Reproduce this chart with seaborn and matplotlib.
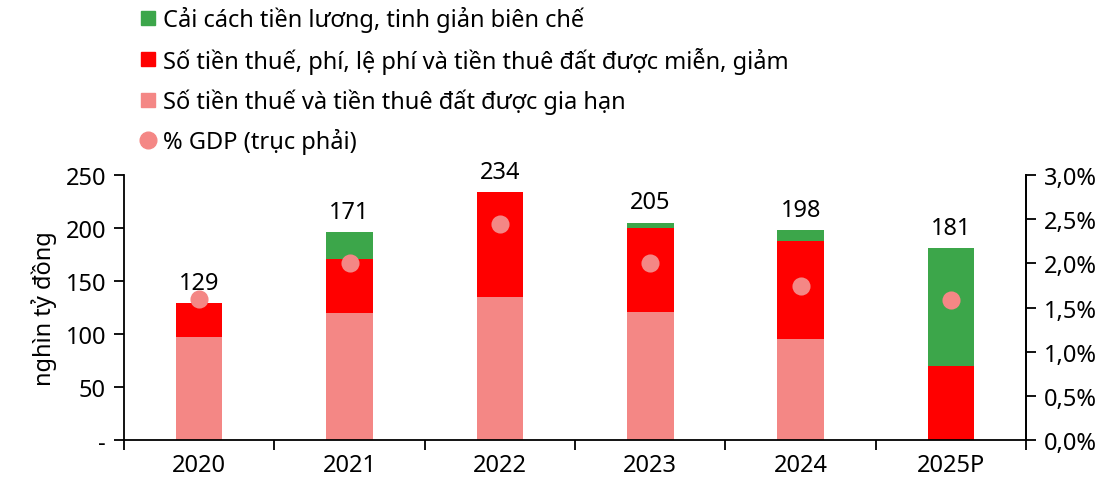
import numpy as np
import pandas as pd
import matplotlib
matplotlib.use("Agg")
import matplotlib.pyplot as plt
import seaborn as sns
from matplotlib.lines import Line2D
from matplotlib.ticker import FixedLocator, FuncFormatter

years = ["2020", "2021", "2022", "2023", "2024", "2025P"]
extended = [97, 120, 135, 121, 95, 0]        # Số tiền thuế và tiền thuê đất được gia hạn
exempted = [32, 51, 99, 79, 93, 70]          # Số tiền thuế, phí, lệ phí ... được miễn, giảm
salary = [0, 25, 0, 5, 10, 111]              # Cải cách tiền lương, tinh giản biên chế
total_labels = ["129", "171", "234", "205", "198", "181"]
gdp_pct = [1.60, 2.01, 2.45, 2.01, 1.74, 1.59]

c_green = "#3CA64A"
c_red = "#FF0000"
c_pink = "#F48785"

sns.set_style("white")
plt.rcParams["font.family"] = ["Noto Sans", "DejaVu Sans"]
plt.rcParams["text.color"] = "black"
plt.rcParams["axes.labelcolor"] = "black"
plt.rcParams["xtick.color"] = "black"
plt.rcParams["ytick.color"] = "black"
FS = 17

df = pd.DataFrame({
    "year": years,
    "pink": extended,
    "red": np.array(extended) + np.array(exempted),
    "green": np.array(extended) + np.array(exempted) + np.array(salary),
})

fig = plt.figure(figsize=(11.07, 4.89), dpi=100)
ax = fig.add_axes([0.112, 0.098, 0.815, 0.542])

bw = 0.31
sns.barplot(data=df, x="year", y="green", color=c_green, width=bw, saturation=1, ax=ax, linewidth=0)
sns.barplot(data=df, x="year", y="red", color=c_red, width=bw, saturation=1, ax=ax, linewidth=0)
sns.barplot(data=df, x="year", y="pink", color=c_pink, width=bw, saturation=1, ax=ax, linewidth=0)

for i, (tot, lab) in enumerate(zip(df["green"], total_labels)):
    ax.annotate(lab, (i, tot), xytext=(0, 6), textcoords="offset points",
                ha="center", va="bottom", fontsize=FS, color="black")

ax.set_xlim(-0.5, 5.5)
ax.set_ylim(0, 250)
ax.set_yticks([0, 50, 100, 150, 200, 250])
ax.set_yticklabels(["-", "50", "100", "150", "200", "250"])
ax.set_xlabel("")
ax.set_ylabel("nghìn tỷ đồng", fontsize=FS, labelpad=6)

ax.xaxis.set_minor_locator(FixedLocator(np.arange(-0.5, 6.0, 1.0)))
ax.tick_params(axis="x", which="major", length=0, labelsize=FS, pad=9)
ax.tick_params(axis="x", which="minor", length=7, width=1.3, direction="out", bottom=True)
ax.tick_params(axis="y", length=7, width=1.3, direction="out", labelsize=FS, left=True, pad=6)

for s in ["left", "bottom", "right"]:
    ax.spines[s].set_visible(True)
    ax.spines[s].set_color("black")
    ax.spines[s].set_linewidth(1.3)
ax.spines["top"].set_visible(False)

ax2 = ax.twinx()
sns.pointplot(x=years, y=gdp_pct, color=c_pink, linestyle="none", markers="o",
              markersize=11, ax=ax2, errorbar=None)
ax2.set_xlim(-0.5, 5.5)
ax2.set_ylim(0, 3.0)
ax2.set_yticks(np.arange(0, 3.01, 0.5))
ax2.yaxis.set_major_formatter(FuncFormatter(lambda v, p: f"{v:.1f}%".replace(".", ",")))
ax2.tick_params(axis="y", length=7, width=1.3, direction="out", labelsize=FS, right=True, pad=6)
ax2.set_ylabel("")
for s in ["top", "left", "bottom"]:
    ax2.spines[s].set_visible(False)
ax2.spines["right"].set_color("black")
ax2.spines["right"].set_linewidth(1.3)

handles = [
    Line2D([], [], marker="s", linestyle="none", color=c_green, markersize=10),
    Line2D([], [], marker="s", linestyle="none", color=c_red, markersize=10),
    Line2D([], [], marker="s", linestyle="none", color=c_pink, markersize=10),
    Line2D([], [], marker="o", linestyle="none", color=c_pink, markersize=12),
]
labels = [
    "Cải cách tiền lương, tinh giản biên chế",
    "Số tiền thuế, phí, lệ phí và tiền thuê đất được miễn, giảm",
    "Số tiền thuế và tiền thuê đất được gia hạn",
    "% GDP (trục phải)",
]
fig.legend(handles, labels, loc="upper left", bbox_to_anchor=(0.118, 1.005),
           frameon=False, fontsize=FS, handlelength=0.7, handletextpad=0.25,
           labelspacing=0.62, borderaxespad=0)

fig.savefig("out.png", dpi=100)
